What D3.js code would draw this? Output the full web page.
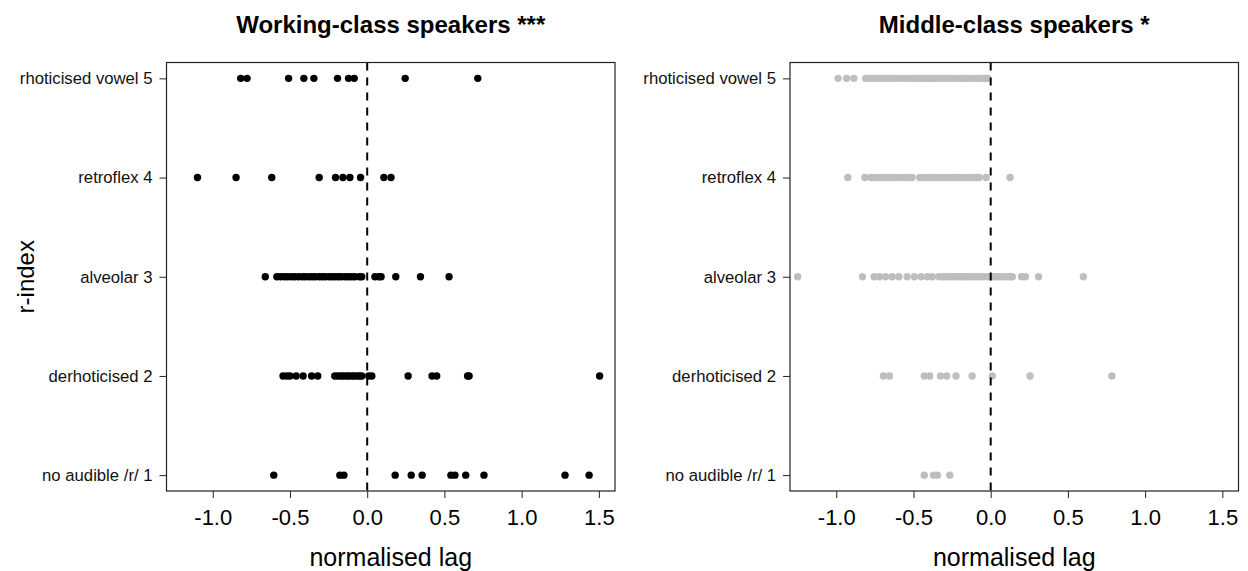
<!DOCTYPE html>
<html><head><meta charset="utf-8">
<script src="https://cdn.jsdelivr.net/npm/d3@7"></script>
<style>
body{margin:0;background:#fff;}
svg{display:block;font-family:"Liberation Sans",Arial,sans-serif;}
</style></head><body>
<svg id="chart" width="1248" height="571"></svg>
<script>
const categories = ["no audible /r/ 1","derhoticised 2","alveolar 3","retroflex 4","rhoticised vowel 5"];
const xTicks = [-1.0,-0.5,0.0,0.5,1.0,1.5];
const xLimits = [-1.192, 1.497];

// Working-class speakers (index 0..4 = r-index 1..5)
const wcNoAudible = [-0.605,-0.177,-0.151,0.181,0.285,0.356,0.542,0.568,0.638,0.756,1.281,1.437];
const wcDerhoticised = [-0.545,-0.52,-0.50,-0.46,-0.415,-0.36,-0.32,-0.21,-0.19,-0.17,-0.155,-0.135,-0.12,-0.10,-0.085,-0.065,-0.05,-0.035,0.01,0.03,0.265,0.42,0.45,0.65,0.66,1.505];
const wcAlveolar = [-0.66,-0.585,-0.56,-0.535,-0.515,-0.49,-0.47,-0.445,-0.42,-0.40,-0.375,-0.355,-0.335,-0.31,-0.29,-0.27,-0.245,-0.225,-0.205,-0.185,-0.165,-0.14,-0.12,-0.10,-0.08,-0.05,-0.035,0.05,0.075,0.09,0.185,0.345,0.53];
const wcRetroflex = [-1.099,-0.849,-0.618,-0.311,-0.205,-0.157,-0.112,-0.043,0.108,0.154];
const wcRhoticised = [-0.819,-0.778,-0.509,-0.410,-0.345,-0.192,-0.121,-0.084,0.246,0.716];

// Middle-class speakers
const mcNoAudible = [-0.43,-0.37,-0.345,-0.265];
const mcDerhoticised = [-0.695,-0.655,-0.43,-0.395,-0.325,-0.285,-0.225,-0.12,0.01,0.255,0.785];
const mcAlveolar = [-1.25,-0.83,-0.755,-0.72,-0.68,-0.638,-0.595,-0.541,-0.494,-0.45,-0.41,-0.378,-0.335,-0.315,-0.295,-0.27,-0.25,-0.23,-0.21,-0.19,-0.17,-0.15,-0.125,-0.105,-0.085,-0.06,-0.045,-0.02,0.0,0.02,0.04,0.06,0.085,0.105,0.125,0.14,0.20,0.225,0.31,0.60];
const mcRetroflex = [-0.925,-0.815,-0.775,-0.755,-0.73,-0.71,-0.69,-0.665,-0.645,-0.625,-0.60,-0.58,-0.555,-0.535,-0.51,-0.46,-0.44,-0.42,-0.40,-0.375,-0.355,-0.33,-0.31,-0.29,-0.27,-0.245,-0.225,-0.20,-0.18,-0.16,-0.135,-0.115,-0.095,-0.075,-0.03,0.125];
const mcRhoticised = [-0.988,-0.933,-0.886,-0.81,-0.79,-0.77,-0.745,-0.73,-0.70,-0.69,-0.665,-0.64,-0.625,-0.60,-0.57,-0.545,-0.53,-0.505,-0.49,-0.47,-0.445,-0.43,-0.41,-0.39,-0.37,-0.355,-0.33,-0.31,-0.295,-0.27,-0.255,-0.23,-0.215,-0.19,-0.175,-0.155,-0.13,-0.115,-0.09,-0.075,-0.05,-0.035,-0.02];

const panels = [
  {title:"Working-class speakers ***", color:"#000000", left:166.5, yTitle:true,
   rows:[wcNoAudible,wcDerhoticised,wcAlveolar,wcRetroflex,wcRhoticised]},
  {title:"Middle-class speakers *", color:"#bebebe", left:790, yTitle:false,
   rows:[mcNoAudible,mcDerhoticised,mcAlveolar,mcRetroflex,mcRhoticised]}
];

const svg = d3.select("#chart");
const plotW = 448.5, plotTop = 62.5, plotBottom = 491;
const ext = (xLimits[1]-xLimits[0])*0.04;

panels.forEach(p => {
  const g = svg.append("g");
  const x = d3.scaleLinear().domain([xLimits[0]-ext, xLimits[1]+ext]).range([p.left, p.left+plotW]);
  const y = d3.scaleLinear().domain([1-0.16, 5+0.16]).range([plotBottom, plotTop]);

  p.rows.forEach((vals, i) => {
    g.append("g").selectAll("circle").data(vals).join("circle")
      .attr("cx", d => x(d)).attr("cy", y(i+1)).attr("r", 3.7)
      .attr("fill", p.color);
  });

  g.append("line").attr("x1", x(0)).attr("x2", x(0)).attr("y1", plotTop).attr("y2", plotBottom)
    .attr("stroke","#000").attr("stroke-width",2).attr("stroke-dasharray","8,7");

  g.append("rect").attr("x", p.left).attr("y", plotTop).attr("width", plotW).attr("height", plotBottom-plotTop)
    .attr("fill","none").attr("stroke","#222").attr("stroke-width",1.2);

  const xa = g.append("g").attr("transform", `translate(0,${plotBottom})`)
    .call(d3.axisBottom(x).tickValues(xTicks).tickFormat(d => d3.format(".1f")(d).replace("−","-")).tickSize(7).tickPadding(11));
  xa.select(".domain").remove();
  xa.selectAll("line").attr("stroke","#222");
  xa.selectAll("text").attr("font-size","22px").attr("fill","#000");

  const ya = g.append("g").attr("transform", `translate(${p.left},0)`)
    .call(d3.axisLeft(y).tickValues([1,2,3,4,5]).tickFormat(d => categories[d-1]).tickSize(7).tickPadding(7));
  ya.select(".domain").remove();
  ya.selectAll("line").attr("stroke","#222");
  ya.selectAll("text").attr("font-size","16.7px").attr("fill","#111");

  g.append("text").attr("x", p.left + plotW/2).attr("y", 33).attr("text-anchor","middle")
    .attr("font-size","24px").attr("font-weight","bold").text(p.title);

  g.append("text").attr("x", p.left + plotW/2).attr("y", 566).attr("text-anchor","middle")
    .attr("font-size","25px").text("normalised lag");

  if (p.yTitle) {
    g.append("text").attr("transform", `translate(34,${(plotTop+plotBottom)/2}) rotate(-90)`)
      .attr("text-anchor","middle").attr("font-size","24px").text("r-index");
  }
});
</script>
</body></html>
